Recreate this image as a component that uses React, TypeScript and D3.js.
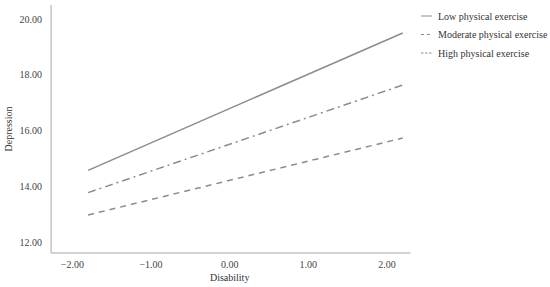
import React from "react";
import * as d3 from "d3";

// disability at -1 SD and +1 SD style endpoints
const xEnds = [-1.8, 2.2];
const seriesNames = ["Low physical exercise", "Moderate physical exercise", "High physical exercise"];
const lowVals = [14.57, 19.5];
const moderateVals = [13.77, 17.63];
const highVals = [12.97, 15.73];
const xTicks = [-2, -1, 0, 1, 2];
const yTicks = [12, 14, 16, 18, 20];

const dashes = ["none", "8,4,2,4", "6,5"];

export default function App() {
  const width = 550, height = 287;
  const x = d3.scaleLinear().domain([-1, 2]).range([151, 387]);
  const y = d3.scaleLinear().domain([12, 20]).range([242, 19]);
  const x0 = x(-2.27), x1 = x(2.3);
  const yTop = 5, yBot = 253;
  const all = [lowVals, moderateVals, highVals];
  const line = d3.line<[number, number]>().x(d => x(d[0])).y(d => y(d[1]));
  const font = "'Liberation Serif', 'DejaVu Serif', serif";

  return (
    <svg width={width} height={height} style={{ position: "absolute", left: 0, top: 0, background: "#fff" }}
      fontFamily={font}>
      <line x1={x0} x2={x0} y1={yTop} y2={yBot} stroke="#c4c4c4" strokeWidth={1.5} />
      <line x1={x0} x2={x1} y1={yBot} y2={yBot} stroke="#c4c4c4" strokeWidth={1.5} />
      {yTicks.map(t => (
        <text key={t} x={x0 - 9} y={y(t)} dy="0.35em" textAnchor="end" fontSize={10} fill="#444">
          {t.toFixed(2)}
        </text>
      ))}
      {xTicks.map(t => (
        <text key={t} x={x(t)} y={yBot + 15} textAnchor="middle" fontSize={10} fill="#444">
          {t.toFixed(2).replace("-", "\u2212")}
        </text>
      ))}
      <text transform={`translate(12,${(yTop + yBot) / 2}) rotate(-90)`} textAnchor="middle" fontSize={10} fill="#333">
        Depression
      </text>
      <text x={x(0)} y={281} textAnchor="middle" fontSize={10} fill="#333">Disability</text>
      {all.map((vals, i) => (
        <path key={i} d={line(xEnds.map((v, j) => [v, vals[j]]) as [number, number][]) || ""}
          fill="none" stroke="#8c8c8c" strokeWidth={1.5} strokeDasharray={dashes[i]} />
      ))}
      {seriesNames.map((name, i) => (
        <g key={name} transform={`translate(421,${16 + i * 18.5})`}>
          <line x1={0} x2={11} y1={0} y2={0} stroke="#8c8c8c" strokeWidth={1}
            strokeDasharray={i === 0 ? "none" : i === 1 ? "3,3" : "2.5,1.5"} />
          <text x={17} y={0} dy="0.35em" fontSize={10} fill="#333">{name}</text>
        </g>
      ))}
    </svg>
  );
}
